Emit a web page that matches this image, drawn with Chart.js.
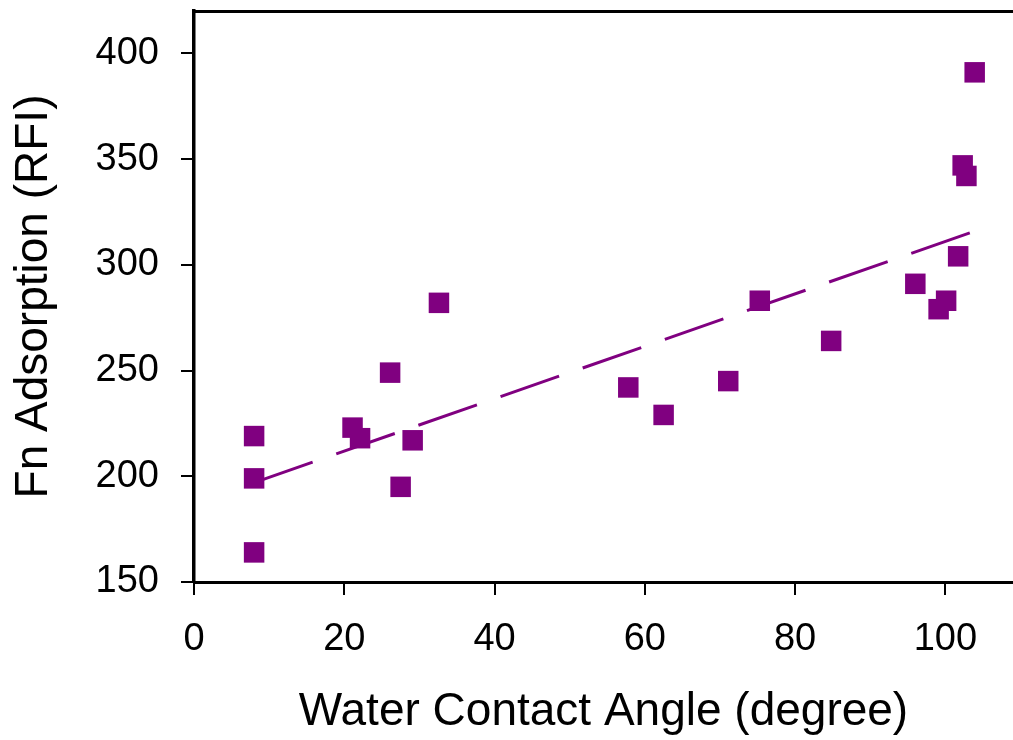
<!DOCTYPE html>
<html>
<head>
<meta charset="utf-8">
<script src="https://cdn.jsdelivr.net/npm/chart.js@4/dist/chart.umd.min.js"></script>
<style>
   html, body { margin: 0; padding: 0; background: #fff; }
   #wrap { width: 1013px; height: 740px; }
</style>
</head>
<body>
<div id="wrap"><canvas id="fnChart"></canvas></div>
<script>
// Measured samples: contact angle vs. fibronectin adsorption
const contactAngle = [8.0, 8.0, 8.0, 21.1, 22.1, 26.1, 27.5, 29.1, 32.6, 57.8, 62.5,
   71.1, 75.3, 84.8, 96.0, 99.1, 100.1, 101.7, 102.3, 102.8, 103.9];
const adsorption = [219, 199, 164, 223, 218, 249, 195, 217, 282, 242, 229,
   245, 283, 264, 291, 279, 283, 304, 347, 342, 391];

// Linear fit, drawn between its two end points
const trendX = [8, 104];
const trendY = [197, 316];

const xTicks = [0, 20, 40, 60, 80, 100];
const yTicks = [150, 200, 250, 300, 350, 400];

const purple = '#800080';
const fontFamily = '"Liberation Sans", Arial, sans-serif';

const points = contactAngle.map((x, i) => ({ x: x, y: adsorption[i] }));
const trend = trendX.map((x, i) => ({ x: x, y: trendY[i] }));

function keepTicks(list) {
   return scale => {
      scale.ticks = list.map(v => ({ value: v }));
   };
}

// fixed box sizes, and no extra room for overhanging labels
function fixBox(size) {
   return scale => {
      if (scale.isHorizontal()) {
         scale.height = size;
      } else {
         scale.width = size;
      }
      scale.paddingTop = 0;
      scale.paddingBottom = 0;
      scale.paddingLeft = 0;
      scale.paddingRight = 0;
   };
}

const ctx = document.getElementById('fnChart').getContext('2d');
new Chart(ctx, {
   type: 'scatter',
   data: {
      datasets: [
         {
            label: 'Fn',
            data: points,
            order: 1,
            pointStyle: 'rect',
            pointRadius: 14.5,
            pointBackgroundColor: purple,
            pointBorderColor: purple,
            pointBorderWidth: 0
         },
         {
            label: 'Fit',
            type: 'line',
            data: trend,
            order: 2,
            borderColor: purple,
            borderWidth: 3,
            borderDash: [62, 25],
            pointRadius: 0,
            fill: false
         }
      ]
   },
   options: {
      responsive: true,
      maintainAspectRatio: false,
      animation: false,
      layout: { padding: 0, autoPadding: false },
      plugins: {
         legend: { display: false },
         tooltip: { enabled: false }
      },
      scales: {
         x: {
            type: 'linear',
            position: 'bottom',
            min: 0,
            max: 109,
            afterBuildTicks: keepTicks(xTicks),
            afterFit: fixBox(158),
            grid: { drawOnChartArea: false, drawTicks: true, tickLength: 13, color: '#000', lineWidth: 2 },
            border: { display: true, color: '#000', width: 3 },
            ticks: { color: '#000', padding: 22, maxRotation: 0, font: { family: fontFamily, size: 38 } },
            title: {
               display: true,
               text: 'Water Contact Angle (degree)',
               color: '#000',
               padding: { top: 0, bottom: 0 },
               font: { family: fontFamily, size: 46 }
            }
         },
         xTop: {
            type: 'linear',
            position: 'top',
            min: 0,
            max: 109,
            afterFit: fixBox(11),
            grid: { display: false },
            border: { display: true, color: '#000', width: 3 },
            ticks: { display: false }
         },
         y: {
            type: 'linear',
            min: 150,
            max: 420,
            afterBuildTicks: keepTicks(yTicks),
            afterFit: fixBox(194),
            grid: { drawOnChartArea: false, drawTicks: true, tickLength: 13, color: '#000', lineWidth: 2 },
            border: { display: true, color: '#000', width: 3.5 },
            ticks: { color: '#000', padding: 22, font: { family: fontFamily, size: 38 } },
            title: {
               display: true,
               text: 'Fn Adsorption (RFI)',
               color: '#000',
               padding: { top: 7, bottom: 0 },
               font: { family: fontFamily, size: 46 }
            }
         }
      }
   }
});
</script>
</body>
</html>
